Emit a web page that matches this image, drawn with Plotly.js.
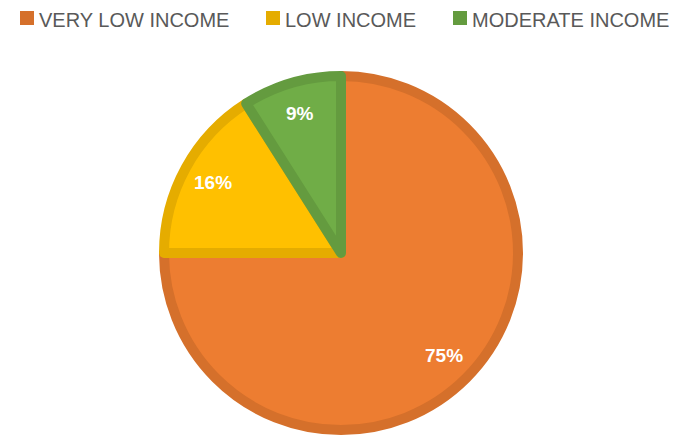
<!DOCTYPE html>
<html>
<head>
<meta charset="utf-8">
<script src="https://cdn.plot.ly/plotly-3.0.1.min.js"></script>
<style>
  html, body { margin: 0; padding: 0; background: #fff; }
  #pie { width: 688px; height: 436px; }
</style>
</head>
<body>
<div id="pie"></div>
<script>
// income groups, share in percent
var labels = ['VERY LOW INCOME', 'LOW INCOME', 'MODERATE INCOME'];
var values = [75, 16, 9];
var fillColors = ['#ED7D31', '#FFC000', '#70AD47'];
var edgeColors = ['#D5702B', '#E5AC00', '#649B3F'];

// legend item left edges, px (legend drawn by hand to match the spacing)
var legendX = [20, 266, 453];

var W = 688, H = 436;
var M = {t: 76, b: 6, l: 0, r: 6};
var plotW = W - M.l - M.r, plotH = H - M.t - M.b;
function px2x(px) { return (px - M.l) / plotW; }
function py2y(py) { return (H - M.b - py) / plotH; }

var data = [{
    type: 'pie',
    labels: labels,
    values: values,
    sort: false,
    direction: 'clockwise',
    rotation: 0,
    textinfo: 'none',
    marker: {
        colors: fillColors,
        line: {color: edgeColors, width: 10}
    },
    hoverinfo: 'none',
    showlegend: false
}];

var shapes = [];
var annotations = [];

// legend
labels.forEach(function (lab, i) {
    shapes.push({
        type: 'rect', xref: 'paper', yref: 'paper',
        x0: px2x(legendX[i]), x1: px2x(legendX[i] + 14),
        y0: py2y(25), y1: py2y(11),
        fillcolor: edgeColors[i], line: {width: 0}
    });
    annotations.push({
        xref: 'paper', yref: 'paper',
        x: px2x(legendX[i] + 17), y: py2y(19.5),
        xanchor: 'left', yanchor: 'middle',
        text: lab, showarrow: false,
        font: {family: 'Liberation Sans', size: 20, color: '#595959'}
    });
});

// percent labels, placed along each slice's middle angle
var total = values.reduce(function (a, b) { return a + b; }, 0);
var R = 182, rLab = 0.8 * R, cum = 0;
values.forEach(function (v) {
    var mid = (cum + v / 2) / total * 2 * Math.PI;
    cum += v;
    annotations.push({
        xref: 'paper', yref: 'paper',
        x: 0.5 + rLab * Math.sin(mid) / plotW,
        y: 0.5 + rLab * Math.cos(mid) / plotH,
        xanchor: 'center', yanchor: 'middle',
        text: Math.round(v / total * 100) + '%', showarrow: false,
        font: {family: 'Liberation Sans', size: 19, color: '#ffffff', weight: 'bold'}
    });
});

var layout = {
    width: W,
    height: H,
    paper_bgcolor: '#ffffff',
    margin: {t: M.t, b: M.b, l: M.l, r: M.r, autoexpand: false},
    shapes: shapes,
    annotations: annotations
};

Plotly.newPlot('pie', data, layout, {displayModeBar: false, staticPlot: true});
</script>
</body>
</html>
